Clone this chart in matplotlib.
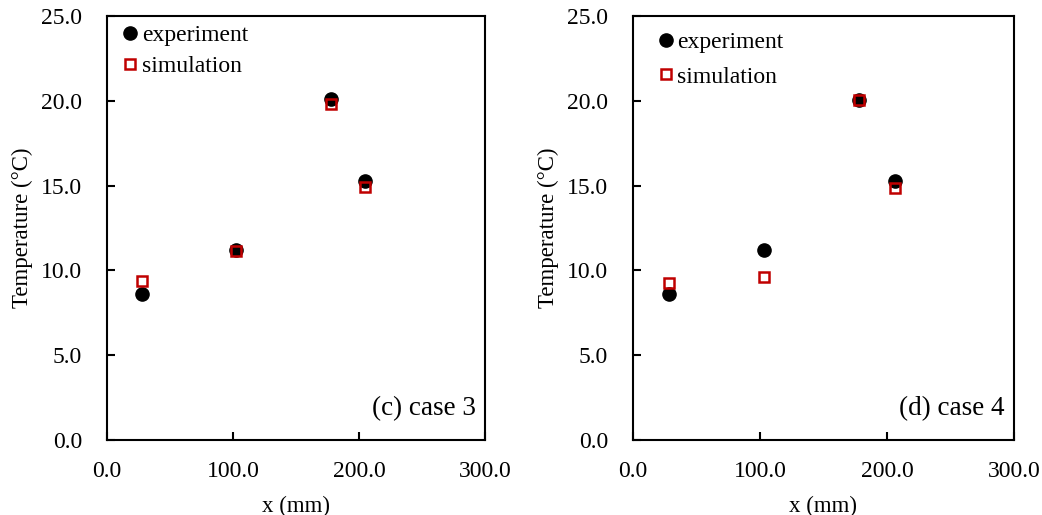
import matplotlib
matplotlib.use("Agg")
import matplotlib.pyplot as plt
from matplotlib.ticker import FormatStrFormatter

plt.rcParams["font.family"] = ["Liberation Serif", "DejaVu Serif"]

# Measurement positions (mm) and temperatures (°C)
x_exp_c = [28.0, 102.5, 177.5, 205.0]
t_exp_c = [8.6, 11.2, 20.1, 15.3]
x_sim_c = [28.0, 102.5, 177.5, 205.0]
t_sim_c = [9.35, 11.15, 19.8, 14.95]

x_exp_d = [28.5, 103.5, 178.0, 206.5]
t_exp_d = [8.6, 11.2, 20.05, 15.25]
x_sim_d = [28.5, 103.5, 178.0, 206.5]
t_sim_d = [9.25, 9.6, 20.05, 14.85]

panel_labels = ["(c) case 3", "(d) case 4"]
x_ticks = [0, 100, 200, 300]
y_ticks = [0, 5, 10, 15, 20, 25]

fig = plt.figure(figsize=(10.42, 5.15), dpi=100)
ax_c = fig.add_axes([0.1027, 0.1456, 0.3628, 0.823])
ax_d = fig.add_axes([0.6075, 0.1456, 0.3656, 0.823])

red = "#C00000"
tick_fs = 17
label_fs = 16.5
legend_fs = 17
panel_fs = 19.5

panels = [
    (ax_c, x_exp_c, t_exp_c, x_sim_c, t_sim_c, panel_labels[0], (0.005, 1.014), 0.42),
    (ax_d, x_exp_d, t_exp_d, x_sim_d, t_sim_d, panel_labels[1], (0.03, 0.997), 0.55),
]

for ax, xe, te, xs, ts, lab, anchor, spacing in panels:
    ax.plot(xe, te, linestyle="none", marker="o", markersize=9.5,
            color="black", label="experiment", zorder=2)
    ax.plot(xs, ts, linestyle="none", marker="s", markersize=7.5,
            markerfacecolor="none", markeredgecolor=red, markeredgewidth=1.8,
            label="simulation", zorder=3)
    ax.set_xlim(0, 300)
    ax.set_ylim(0, 25)
    ax.set_xticks(x_ticks)
    ax.set_yticks(y_ticks)
    ax.xaxis.set_major_formatter(FormatStrFormatter("%.1f"))
    ax.yaxis.set_major_formatter(FormatStrFormatter("%.1f"))
    ax.tick_params(direction="in", length=6, width=1.5, labelsize=tick_fs,
                   top=False, right=False)
    ax.tick_params(axis="x", pad=15)
    ax.tick_params(axis="y", pad=18)
    for sp in ax.spines.values():
        sp.set_linewidth(1.5)
    ax.set_xlabel("x (mm)", fontsize=label_fs, labelpad=10)
    ax.set_ylabel("Temperature (°C)", fontsize=label_fs, labelpad=6)
    ax.text(0.975, 0.075, lab, transform=ax.transAxes, ha="right",
            va="center", fontsize=panel_fs)
    ax.legend(loc="upper left", bbox_to_anchor=anchor, frameon=False,
              fontsize=legend_fs, handlelength=0.6, handletextpad=0.2,
              labelspacing=spacing, borderaxespad=0.2)

fig.savefig("out.png", dpi=100)
